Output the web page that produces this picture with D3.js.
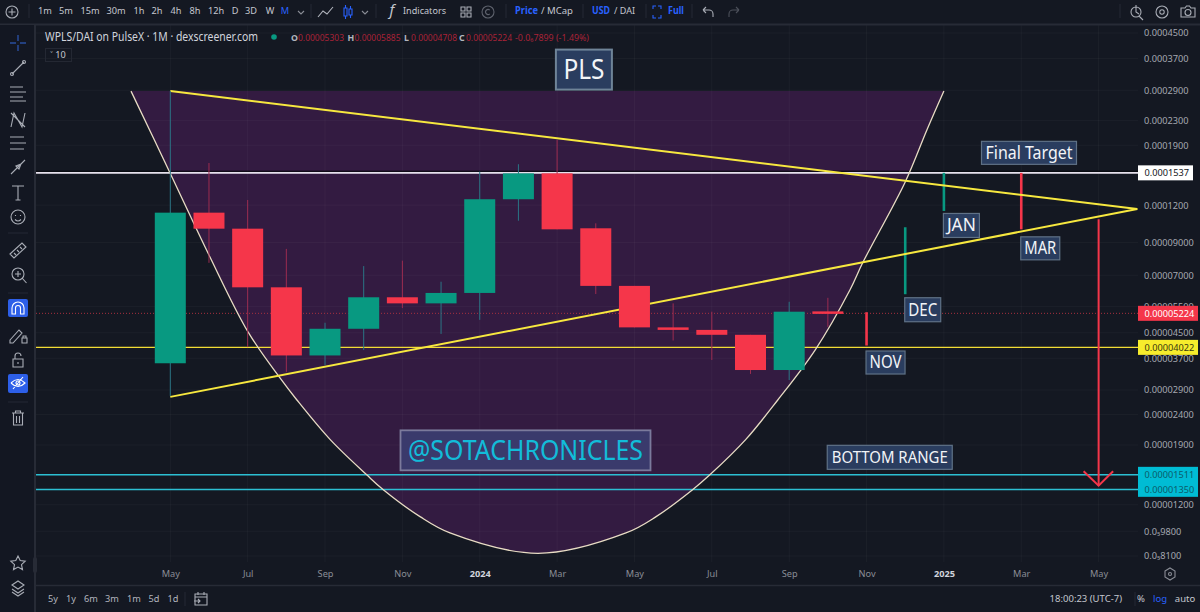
<!DOCTYPE html>
<html>
<head>
<meta charset="utf-8">
<script src="https://cdn.jsdelivr.net/npm/d3@7"></script>
<style>
  html, body { margin: 0; padding: 0; background: #141822; overflow: hidden; }
  text { font-family: "Noto Sans", "DejaVu Sans", sans-serif; }
</style>
</head>
<body>
<svg id="chart" width="1200" height="612"></svg>
<script>
// monthly candles, May 2023 to Oct 2024
const candleOpen = [3.56e-5, 11.32e-5, 10.01e-5, 6.38e-5, 3.78e-5, 4.64e-5, 5.91e-5, 5.64e-5, 6.11e-5, 12.55e-5, 15.31e-5, 10.04e-5, 6.45e-5, 4.69e-5, 4.60e-5, 4.43e-5, 3.38e-5, 5.303e-5];
const candleHigh = [28.8e-5, 16.58e-5, 12.48e-5, 8.57e-5, 4.86e-5, 7.51e-5, 7.83e-5, 6.66e-5, 15.51e-5, 16.42e-5, 19.78e-5, 10.43e-5, 6.45e-5, 5.64e-5, 5.29e-5, 4.43e-5, 5.71e-5, 5.885e-5];
const candleLow = [2.77e-5, 7.70e-5, 4.03e-5, 3.33e-5, 3.51e-5, 3.94e-5, 5.44e-5, 4.46e-5, 4.97e-5, 10.64e-5, 9.96e-5, 6.06e-5, 4.69e-5, 4.24e-5, 3.65e-5, 3.28e-5, 3.13e-5, 4.708e-5];
const candleClose = [11.32e-5, 10.01e-5, 6.38e-5, 3.78e-5, 4.64e-5, 5.91e-5, 5.64e-5, 6.11e-5, 12.55e-5, 15.31e-5, 9.96e-5, 6.45e-5, 4.69e-5, 4.60e-5, 4.43e-5, 3.38e-5, 5.29e-5, 5.224e-5];

// hand drawn future bars: Nov, Dec, Jan, Mar
const futureMonth = [18, 19, 20, 22];
const futureFrom = [5.27e-5, 6.05e-5, 11.47e-5, 15.37e-5];
const futureTo = [4.08e-5, 10.12e-5, 15.37e-5, 9.96e-5];
const futureColor = ['red', 'green', 'green', 'red'];

// cup drawing
const cupMonth = [-1.016, 0, 1, 2.009, 2.836, 3.268, 4.129, 5.078, 5.499, 6.456, 7.231, 9.506, 11.78, 12.56, 13.51, 13.95, 14.88, 15.71, 16.67, 17.57, 17.9, 19, 19.56, 20];
const cupPrice = [28.8e-5, 15.3e-5, 8.18e-5, 4.53e-5, 3.18e-5, 2.69e-5, 1.984e-5, 1.511e-5, 1.35e-5, 1.096e-5, 0.967e-5, 0.827e-5, 0.967e-5, 1.096e-5, 1.35e-5, 1.511e-5, 1.984e-5, 2.69e-5, 3.94e-5, 6.25e-5, 7.7e-5, 14.33e-5, 21.36e-5, 28.8e-5];

// triangle trend lines
const upperMonth = [0, 25];
const upperPrice = [28.8e-5, 11.65e-5];
const lowerMonth = [0, 25];
const lowerPrice = [2.75e-5, 11.65e-5];

// drop arrow
const arrowMonth = 24;
const arrowFrom = 10.76e-5;
const arrowTo = 1.39e-5;

// horizontal levels
const whiteLevel = 0.0001537;
const yellowLevel = 0.00004022;
const lastPrice = 0.00005224;
const cyanLevels = [0.00001511, 0.0000135];

// axes
const monthTicks = [0, 2, 4, 6, 8, 10, 12, 14, 16, 18, 20, 22, 24];
const monthTickLabels = ['May', 'Jul', 'Sep', 'Nov', '2024', 'Mar', 'May', 'Jul', 'Sep', 'Nov', '2025', 'Mar', 'May'];
const priceTicks = [0.00045, 0.00037, 0.00029, 0.00023, 0.00019, 0.00012, 0.00009, 0.00007, 0.000055, 0.000045, 0.000037, 0.000029, 0.000024, 0.000019, 0.000012, 0.0000098, 0.0000081];
const priceTickLabels = ['0.0004500', '0.0003700', '0.0002900', '0.0002300', '0.0001900', '0.0001200', '0.00009000', '0.00007000', '0.00005500', '0.00004500', '0.00003700', '0.00002900', '0.00002400', '0.00001900', '0.00001200', '0.0\u20859800', '0.0\u20858100'];

const red = '#f5364a';
const green = '#089981';
const blue = '#2962ff';
const gridColor = 'rgba(255,255,255,0.035)';

const svg = d3.select('#chart');
svg.append('rect').attr('width', 1200).attr('height', 612).attr('fill', '#141822');

const x = d3.scaleLinear().domain([0, 25]).range([170.3, 1137.3]);
const y = d3.scaleLog().domain([0.00045, 0.0000081]).range([33, 556]);

// cup fill sits under the grid
const cupData = cupMonth.map((m, i) => ({ m: m, p: cupPrice[i] }));
const cupArea = d3.area()
  .x((d) => x(d.m))
  .y0(y(28.8e-5))
  .y1((d) => y(d.p))
  .curve(d3.curveCatmullRom);
svg.append('path').datum(cupData).attr('d', cupArea).attr('fill', '#331b41');

// grid
svg.append('g').selectAll('line')
  .data(priceTicks)
  .enter()
  .append('line')
  .attr('x1', 36).attr('x2', 1138)
  .attr('y1', (d) => y(d)).attr('y2', (d) => y(d))
  .attr('stroke', gridColor);
svg.append('g').selectAll('line')
  .data(monthTicks)
  .enter()
  .append('line')
  .attr('x1', (d) => x(d)).attr('x2', (d) => x(d))
  .attr('y1', 25).attr('y2', 562)
  .attr('stroke', gridColor);

// axes
const yAxis = d3.axisRight(y)
  .tickValues(priceTicks)
  .tickSize(0)
  .tickPadding(0)
  .tickFormat((d, i) => priceTickLabels[i]);
const yAxisG = svg.append('g').attr('transform', 'translate(1144,0)').call(yAxis);
yAxisG.select('.domain').remove();
yAxisG.selectAll('text').attr('fill', '#a4a7b0').style('font-size', '9.2px');

const xAxis = d3.axisBottom(x)
  .tickValues(monthTicks)
  .tickSize(0)
  .tickPadding(0)
  .tickFormat((d, i) => monthTickLabels[i]);
const xAxisG = svg.append('g').attr('transform', 'translate(0,570)').call(xAxis);
xAxisG.select('.domain').remove();
xAxisG.selectAll('text')
  .attr('fill', (d, i) => (monthTickLabels[i].length === 4 ? '#d1d4dc' : '#8a8d96'))
  .style('font-weight', (d, i) => (monthTickLabels[i].length === 4 ? 'bold' : 'normal'))
  .style('font-size', '9.2px');

// horizontal levels
const hLine = (price, color, width, dash) => {
  svg.append('line')
    .attr('x1', 36).attr('x2', 1138)
    .attr('y1', y(price)).attr('y2', y(price))
    .attr('stroke', color)
    .attr('stroke-width', width)
    .attr('stroke-dasharray', dash || null);
};
hLine(lastPrice, '#a8303f', 1, '1 2');
hLine(yellowLevel, '#f2dc35', 1.4);
cyanLevels.forEach((level) => hLine(level, '#2cbfd3', 1.5));
svg.append('line')
  .attr('x1', 36).attr('x2', 1138)
  .attr('y1', y(whiteLevel) - 1.6).attr('y2', y(whiteLevel) - 1.6)
  .attr('stroke', '#05060a').attr('stroke-width', 1);
hLine(whiteLevel, '#e6e0ec', 1.7);

// cup outline
const cupLine = d3.line()
  .x((d) => x(d.m))
  .y((d) => y(d.p))
  .curve(d3.curveCatmullRom);
svg.append('path').datum(cupData)
  .attr('d', cupLine)
  .attr('fill', 'none')
  .attr('stroke', '#e8dcc4')
  .attr('stroke-width', 1.3);

// future bars go below the trend lines
svg.append('g').selectAll('line')
  .data(futureMonth)
  .enter()
  .append('line')
  .attr('x1', (d) => x(d)).attr('x2', (d) => x(d))
  .attr('y1', (d, i) => y(futureFrom[i]))
  .attr('y2', (d, i) => y(futureTo[i]))
  .attr('stroke', (d, i) => (futureColor[i] === 'red' ? red : green))
  .attr('stroke-width', 2.6);

// arrow
svg.append('line')
  .attr('x1', x(arrowMonth)).attr('x2', x(arrowMonth))
  .attr('y1', y(arrowFrom)).attr('y2', y(arrowTo))
  .attr('stroke', red).attr('stroke-width', 2);
svg.append('path')
  .attr('d', d3.line()([[x(arrowMonth) - 15, y(arrowTo) - 14.5], [x(arrowMonth), y(arrowTo)], [x(arrowMonth) + 14.5, y(arrowTo) - 14.5]]))
  .attr('fill', 'none').attr('stroke', red).attr('stroke-width', 2);

// trend lines
const trendLine = d3.line().x((d) => x(d[0])).y((d) => y(d[1]));
[[upperMonth, upperPrice], [lowerMonth, lowerPrice]].forEach((pair) => {
  svg.append('path')
    .datum(pair[0].map((m, i) => [m, pair[1][i]]))
    .attr('d', trendLine)
    .attr('fill', 'none')
    .attr('stroke', '#f7e83f')
    .attr('stroke-width', 2);
});

// candles on top of the drawings
const candles = candleOpen.map((o, i) => ({ i: i, o: o, h: candleHigh[i], l: candleLow[i], c: candleClose[i] }));
const candleColor = (d) => (d.c >= d.o ? green : red);
const candleG = svg.append('g').selectAll('g').data(candles).enter().append('g');
candleG.append('line')
  .attr('x1', (d) => x(d.i)).attr('x2', (d) => x(d.i))
  .attr('y1', (d) => y(d.h)).attr('y2', (d) => y(d.l))
  .attr('stroke', (d) => (d.c >= d.o ? '#2a7585' : '#9c2c50'))
  .attr('stroke-width', 1);
candleG.append('rect')
  .attr('x', (d) => x(d.i) - 15.5)
  .attr('width', 31)
  .attr('y', (d) => y(Math.max(d.o, d.c)))
  .attr('height', (d) => Math.max(2.5, Math.abs(y(d.o) - y(d.c))))
  .attr('fill', candleColor);

// text boxes
const tag = (text, left, top, w, h, size, opts) => {
  const o = opts || {};
  svg.append('rect')
    .attr('x', left + 0.5).attr('y', top + 0.5)
    .attr('width', w).attr('height', h)
    .attr('fill', o.fill || '#2a3d5f')
    .attr('stroke', o.stroke || '#5f7186')
    .attr('stroke-width', o.border || 1.2);
  svg.append('text')
    .attr('x', left + w / 2 + 0.5)
    .attr('y', top + h / 2 + size * 0.36)
    .attr('text-anchor', 'middle')
    .attr('fill', o.color || '#f2f4f7')
    .attr('font-size', size)
    .attr('textLength', o.length || null)
    .attr('lengthAdjust', 'spacingAndGlyphs')
    .text(text);
};
tag('PLS', x(10.68) - 28, y(28.8e-5) - 42, 56, 40, 27, { border: 2, stroke: '#6f8498', length: 41 });
tag('@SOTACHRONICLES', x(9.17) - 125, y(1.511e-5) - 45, 250, 40, 27.5, { fill: '#3a3a6c', stroke: '#7b7a9c', border: 1.8, color: '#12bcd9', length: 235 });
tag('Final Target', x(22.2) - 48, y(15.37e-5) - 32, 95, 23, 18, { length: 87 });
tag('JAN', x(20) - 1, y(11.47e-5) + 2, 36, 24, 18, { length: 29 });
tag('MAR', x(22) - 1, y(9.96e-5) + 7, 39, 23, 18, { length: 32 });
tag('DEC', x(19) - 1, y(6.05e-5) + 3, 36, 24, 18, { length: 29 });
tag('NOV', x(18) - 1, y(4.08e-5) + 5, 39, 23, 18, { length: 32 });
tag('BOTTOM RANGE', x(18.6) - 63, y(1.511e-5) - 30, 125, 24, 17, { length: 116 });

// price tags
const priceTag = (label, yCenter, w, fill, color) => {
  svg.append('rect').attr('x', 1138).attr('y', yCenter - 7.5).attr('width', w).attr('height', 15).attr('fill', fill);
  svg.append('text').attr('x', 1144.5).attr('y', yCenter + 3.3)
    .attr('fill', color).attr('font-size', 9.2).text(label);
};
priceTag('0.0001537', y(whiteLevel), 55, '#ffffff', '#131722');
priceTag('0.00005224', y(lastPrice), 60, red, '#ffffff');
priceTag('0.00004022', y(yellowLevel), 60, '#f7ec2c', '#3a3a10');
svg.append('rect').attr('x', 1138).attr('y', y(cyanLevels[0]) - 8).attr('width', 60).attr('height', 30).attr('fill', '#00bcd4');
cyanLevels.forEach((level) => {
  svg.append('text').attr('x', 1144.5).attr('y', y(level) + 3.3)
    .attr('fill', '#0b5d6b').attr('font-size', 9.2).text('0.0000' + Math.round(level * 1e8));
});

// toolbars
const chromeLine = (x1, y1, x2, y2, color, width) => {
  svg.append('line').attr('x1', x1).attr('y1', y1).attr('x2', x2).attr('y2', y2)
    .attr('stroke', color).attr('stroke-width', width || 1);
};
chromeLine(0, 24.5, 1200, 24.5, '#272b36', 2);
chromeLine(35, 25, 35, 612, '#272b36', 2);
chromeLine(36, 585.5, 1200, 585.5, '#272b36', 1.5);
svg.append('rect').attr('x', 0).attr('y', 25).attr('width', 34).attr('height', 587).attr('fill', '#131722');
[29, 311, 376, 506, 583, 646, 692, 1120].forEach((sx) => chromeLine(sx, 4, sx, 18, '#252934'));
chromeLine(185, 592, 185, 606, '#252934');
chromeLine(1135, 592, 1135, 606, '#252934');
[233, 293, 402].forEach((sy) => chromeLine(8, sy, 28, sy, '#252934'));
svg.append('rect').attr('x', 33).attr('y', 557).attr('width', 4).attr('height', 16).attr('rx', 2).attr('fill', '#272b36');

const label = (text, lx, ly, size, color, opts) => {
  const o = opts || {};
  const t = svg.append('text').attr('x', lx).attr('y', ly)
    .attr('font-size', size).attr('fill', color)
    .attr('text-anchor', o.anchor || 'middle')
    .attr('font-weight', o.weight || 'normal')
    .text(text);
  if (o.length) t.attr('textLength', o.length).attr('lengthAdjust', 'spacingAndGlyphs');
  return t;
};

const intervals = ['1m', '5m', '15m', '30m', '1h', '2h', '4h', '8h', '12h', 'D', '3D', 'W', 'M'];
const intervalX = [45, 66, 90, 116, 139, 157, 176, 195, 216, 235, 251, 270, 285];
intervals.forEach((t, i) => label(t, intervalX[i], 14, 9.2, t === 'M' ? blue : '#c4c7cf'));
label('Indicators', 403, 14, 9.8, '#c4c7cf', { anchor: 'start', length: 43 });
label('Price', 515, 14, 9.8, blue, { anchor: 'start', weight: 'bold', length: 23 });
label('/ MCap', 541, 14, 9.8, '#c4c7cf', { anchor: 'start', length: 32 });
label('USD', 592, 14, 9.8, blue, { anchor: 'start', weight: 'bold', length: 18 });
label('/ DAI', 614, 14, 9.8, '#c4c7cf', { anchor: 'start', length: 21 });
label('Full', 668, 14, 9.8, blue, { anchor: 'start', weight: 'bold', length: 16 });
label('f', 392, 15, 15, '#c4c7cf', { weight: 'normal' }).style('font-style', 'italic');

const bottomBtns = ['5y', '1y', '6m', '3m', '1m', '5d', '1d'];
const bottomX = [53, 71, 91, 112, 134, 154, 173];
bottomBtns.forEach((t, i) => label(t, bottomX[i], 602, 9.2, '#b2b5be'));
label('18:00:23 (UTC-7)', 1122, 602, 9.5, '#c4c7cf', { anchor: 'end' });
label('%', 1141, 602, 9.5, '#c4c7cf');
label('log', 1160, 602, 9.5, blue);
label('auto', 1185, 602, 9.5, '#c4c7cf');

// legend row
label('WPLS/DAI on PulseX \u00b7 1M \u00b7 dexscreener.com', 45, 41, 12, '#d1d4dc', { anchor: 'start', length: 213 });
svg.append('circle').attr('cx', 274).attr('cy', 37).attr('r', 2.8).attr('fill', green);
const ohlcKeys = ['O', 'H', 'L', 'C'];
const ohlcKeyX = [291, 347.5, 404, 459];
const ohlcValues = ['0.00005303', '0.00005885', '0.00004708', '0.00005224'];
ohlcKeys.forEach((k, i) => {
  label(k, ohlcKeyX[i], 40.5, 8.8, '#b2b5be', { anchor: 'start', weight: 'bold' });
  label(ohlcValues[i], ohlcKeyX[i] + 7, 40.5, 8.6, '#a92338', { anchor: 'start', length: 46 });
});
label('-0.0\u20867899 (-1.49%)', 515, 40.5, 8.6, '#a92338', { anchor: 'start', length: 74 });
svg.append('rect').attr('x', 45.5).attr('y', 48.5).attr('width', 26).attr('height', 13)
  .attr('fill', 'none').attr('stroke', '#242833');
label('\u02c5 10', 58, 58, 9.2, '#c4c7cf');

// toolbar icons
const icon = (ix, iy, d, color, width) => {
  svg.append('path').attr('transform', `translate(${ix},${iy})`).attr('d', d)
    .attr('fill', 'none').attr('stroke', color || '#a9adb6').attr('stroke-width', width || 1.1);
};
const ring = 'M-6 0a6 6 0 1 0 12 0a6 6 0 1 0 -12 0';
icon(12, 12, ring + 'M-3.5 0h7M0 -3.5v7');
icon(301, 12, 'M-3 -1l3 3l3 -3', '#8a8d96');
icon(365, 12, 'M-3 -1l3 3l3 -3', '#8a8d96');
icon(326, 12, 'M-8 5l5 -6l4 3l6 -7', '#b2b5be');
icon(347, 12, 'M-3 -4h3v8h-3zM-1.5 -7v3M-1.5 4v3M2 -3h3v6h-3zM3.5 -6v3M3.5 3v3', blue);
icon(466, 12, 'M-5 -5h4v4h-4zM1 -5h4v4h-4zM-5 1h4v4h-4zM1 1h4v4h-4z', '#a9adb6');
icon(488, 12, ring + 'M1.8 -1.8a2.5 2.5 0 1 0 0 3.6', '#5d616c');
icon(657, 12, 'M-4 -3v-3h3M1 -6h3v3M4 3v3h-3M-1 6h-3v-3', blue);
icon(708, 12, 'M-5 -2h6a4 4 0 0 1 4 4v3M-5 -2l3 -3M-5 -2l3 3', '#a9adb6');
icon(734, 12, 'M5 -2h-6a4 4 0 0 0 -4 4v3M5 -2l-3 -3M5 -2l-3 3', '#4c505a');
icon(1136, 12, 'M-5 0a5 5 0 1 0 10 0a5 5 0 1 0 -10 0M3 4l4 4M0 -7v7l3 2', '#a9adb6');
icon(1162, 12, ring + 'M-2.2 0a2.2 2.2 0 1 0 4.4 0a2.2 2.2 0 1 0 -4.4 0', '#a9adb6');
icon(1188, 12, 'M-7 -4h4l1.5 -2h3l1.5 2h4v9h-14zM-3 0.5a3 3 0 1 0 6 0a3 3 0 1 0 -6 0', '#a9adb6');
icon(1170, 574, 'M-5 -3l5 -3l5 3v6l-5 3l-5 -3zM-1.5 0a1.5 1.5 0 1 0 3 0a1.5 1.5 0 1 0 -3 0', '#8a8d96');
icon(201, 599, 'M-6 -5h12v11h-12zM-6 -2h12M-3 -7v3M3 -7v3M-7 2h6M-3 0l2 2l-2 2', '#a9adb6');

// left toolbar
svg.append('rect').attr('x', 8).attr('y', 299).attr('width', 20).attr('height', 18).attr('rx', 2).attr('fill', '#2d5fe8');
svg.append('rect').attr('x', 8).attr('y', 374).attr('width', 20).attr('height', 19).attr('rx', 2).attr('fill', '#2d5fe8');
icon(18, 43, 'M-8 0h6M2 0h6M0 -8v6M0 2v6', '#2a4f9f', 1.4);
icon(18, 68, 'M-6 6l12 -12M-7.5 6a1.5 1.5 0 1 0 3 0a1.5 1.5 0 1 0 -3 0M4.5 -6a1.5 1.5 0 1 0 3 0a1.5 1.5 0 1 0 -3 0');
icon(18, 93, 'M-8 -6h13M-8 -1h16M-8 4h13M-8 8h16');
icon(18, 120, 'M-7 7l3 -14l8 14l3 -14M-7 -7l14 14');
icon(18, 143, 'M-8 -6h14M-8 0h16M-8 6h14');
icon(18, 167, 'M-7 7l14 -14M-2 -1l3 3l2 -5z');
icon(18, 193, 'M-6 -7h12M0 -7v14M-2.5 7h5');
icon(18, 217, 'M-7 0a7 7 0 1 0 14 0a7 7 0 1 0 -14 0M-3 2.5q3 3 6 0M-2.5 -2v1M2.5 -2v1');
icon(18, 250, 'M-8 4l12 -11l4 4l-12 11zM-4 3l2 2M-1 0l2 2M2 -3l2 2');
icon(18, 275, 'M-6 -1a6 6 0 1 0 12 0a6 6 0 1 0 -12 0M4.5 3.5l4 4.5M-3 -1h6M0 -4v6');
icon(18, 308, 'M-6 6v-6a6 6 0 0 1 12 0v6h-3.5v-6a2.5 2.5 0 0 0 -5 0v6z', '#ffffff');
icon(16, 335, 'M-6 5l9 -10l3 3l-9 10h-3zM6 3h5v5h-5zM7 3v-2h3v2');
icon(18, 360, 'M-5 -1h10v8h-10zM-3 -1v-3a3 3 0 0 1 6 0M0 2v2');
icon(18, 383, 'M-7 0q7 -7 14 0q-7 7 -14 0M-5 6l10 -12M-2 0a2 2 0 1 0 4 0a2 2 0 1 0 -4 0', '#ffffff');
icon(18, 418, 'M-6 -5h12M-2.5 -5v-2h5v2M-4.5 -5v12h9v-12M-1.5 -2v7M1.5 -2v7');
icon(18, 563, 'M0 -7l2.2 4.6l5 .6l-3.7 3.4l1 5l-4.5 -2.5l-4.5 2.5l1 -5l-3.7 -3.4l5 -.6z');
icon(18, 588, 'M-6 -3l6 -4l6 4l-6 4zM-6 1l6 4l6 -4M-6 4l6 4l6 -4');
</script>
</body>
</html>
